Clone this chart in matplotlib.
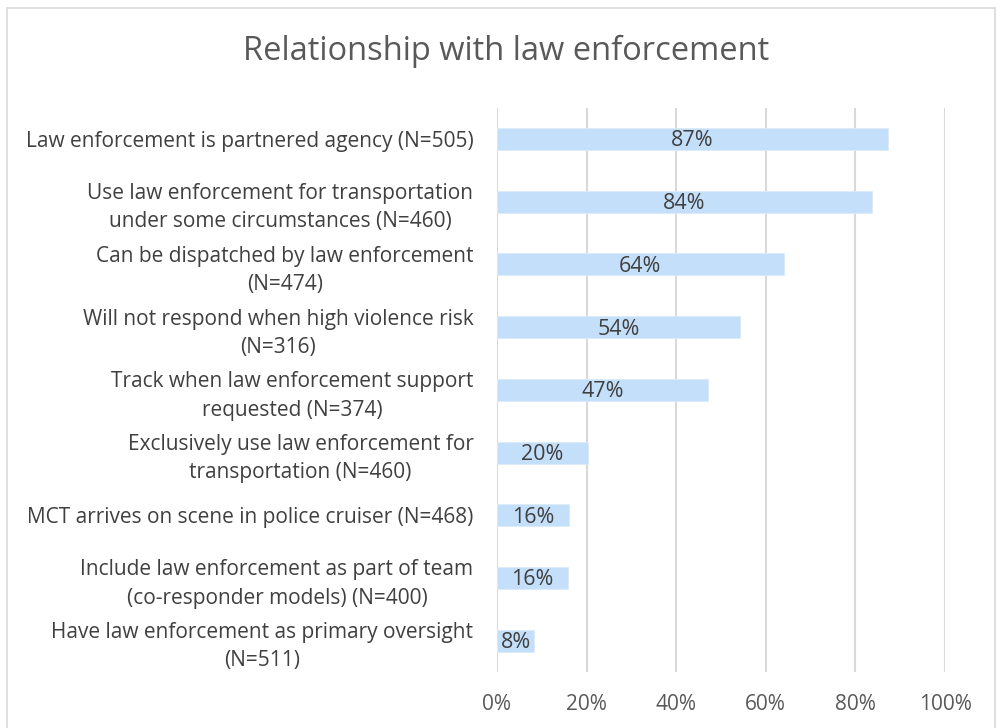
import matplotlib.pyplot as plt
from matplotlib.patches import Rectangle

plt.rcParams['font.family'] = ['Open Sans', 'DejaVu Sans']

# Survey items, top to bottom
categories = [
    'Law enforcement is partnered agency (N=505)',
    'Use law enforcement for transportation\nunder some circumstances (N=460)',
    'Can be dispatched by law enforcement\n(N=474)',
    'Will not respond when high violence risk\n(N=316)',
    'Track when law enforcement support\nrequested (N=374)',
    'Exclusively use law enforcement for\ntransportation (N=460)',
    'MCT arrives on scene in police cruiser (N=468)',
    'Include law enforcement as part of team\n(co-responder models) (N=400)',
    'Have law enforcement as primary oversight\n(N=511)',
]
shares = [87.3, 83.7, 64.0, 54.2, 47.1, 20.3, 16.1, 15.9, 8.3]
x_ticks = [0, 20, 40, 60, 80, 100]

fig = plt.figure(figsize=(10.03, 7.28), dpi=100)
ax = fig.add_axes([0.4955, 0.077, 0.4467, 0.775])

# chart frame
fig.patches.append(Rectangle((0.007, -0.01), 0.985, 0.999, transform=fig.transFigure,
                             fill=False, edgecolor='#D9D9D9', linewidth=1.2))

ypos = list(range(len(categories)))
bars = ax.barh(ypos, shares, height=0.35, color='#C4DFFA', edgecolor='#DDEBF8',
               linewidth=0.6, zorder=3)
for y, v in zip(ypos, shares):
    ax.text(v / 2, y + 0.03, f'{v:.0f}%', ha='center', va='center', fontsize=15.5,
            color='#404040', zorder=4)

ax.set_ylim(len(categories) - 0.5, -0.5)
ax.set_xlim(0, 100)
ax.set_xticks(x_ticks)
ax.set_xticklabels([f'{t}%' for t in x_ticks], fontsize=15, color='#595959')
ax.set_yticks(ypos)
ax.set_yticklabels(categories, fontsize=15, color='#404040', multialignment='center',
                   linespacing=1.45)
ax.tick_params(axis='both', length=0)
ax.tick_params(axis='y', pad=17)
ax.tick_params(axis='x', pad=16)
ax.grid(axis='x', color='#D9D9D9', linewidth=1.5, zorder=0)
for s in ax.spines.values():
    s.set_visible(False)

fig.text(0.505, 0.929, 'Relationship with law enforcement', ha='center', va='center',
         fontsize=23.5, color='#595959')

fig.savefig('out.png', dpi=100)
